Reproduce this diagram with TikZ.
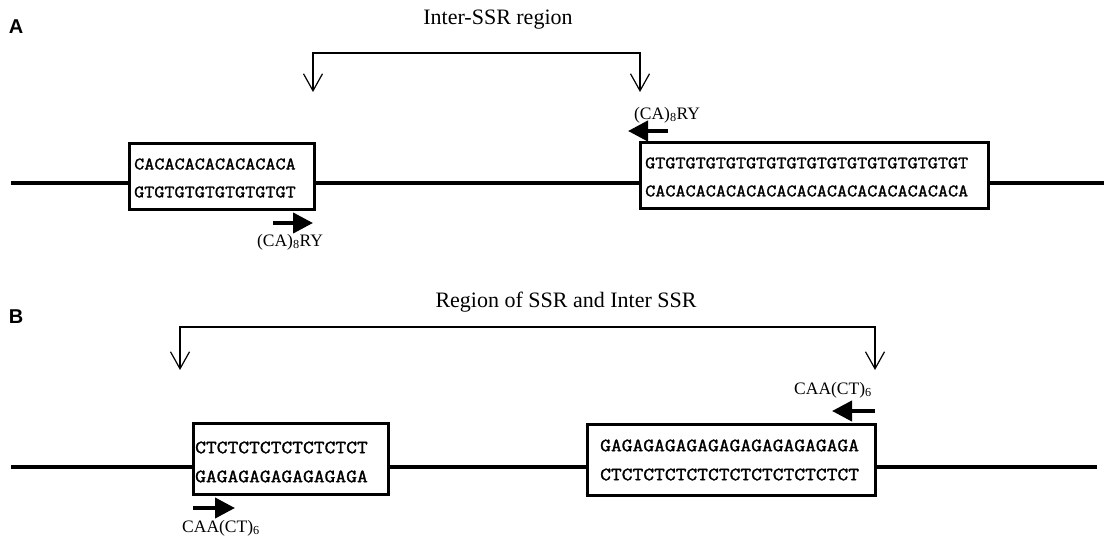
\documentclass[tikz,border=0pt]{standalone}
\usepackage{fontspec}
\setmainfont{Liberation Serif}
\setsansfont{Liberation Sans}
\newfontfamily\seqfont[FakeBold=1.6,FakeStretch=1.12]{Latin Modern Mono}
\usetikzlibrary{arrows.meta}

\begin{document}
\begin{tikzpicture}[x=1pt,y=-1pt,
  dna/.style={line width=4pt},
  ssrbox/.style={draw,line width=3pt,fill=white,inner sep=0pt},
  seqA/.style={font=\seqfont\fontsize{17.5}{28}\selectfont,align=left,anchor=west,inner sep=0pt},
  seqB/.style={font=\seqfont\fontsize{18.7}{29}\selectfont,align=left,anchor=west,inner sep=0pt},
  bracket/.style={line width=1.2pt,{Straight Barb[length=17pt,width=19pt]}-{Straight Barb[length=17pt,width=19pt]}},
  primer/.style={line width=4pt,-{Triangle[length=20pt,width=20pt]}},
  plabel/.style={font=\fontsize{17.5}{20}\selectfont,inner sep=0pt},
  regiontitle/.style={font=\fontsize{22}{26}\selectfont,inner sep=0pt},
  panel/.style={font=\sffamily\bfseries\fontsize{20}{22}\selectfont,inner sep=0pt}]
\useasboundingbox (0,0) rectangle (1108,540);

% panel A
\coordinate (lA0) at (11,183);
\coordinate (lA1) at (1104,183);
\coordinate (tipA1) at (313,92);
\coordinate (tipA2) at (640,92);
\coordinate (pA1s) at (273,223);
\coordinate (pA1e) at (313,223);
\coordinate (pA2s) at (668,131);
\coordinate (pA2e) at (628,131);

\node[panel] (labA) at (16,27) {A};
\node[regiontitle] (titleA) at (498,20) {Inter-SSR region};
\draw[bracket] (tipA1) -- ++(0,-39) -| (tipA2);

\draw[dna] (lA0) -- (lA1);
\node[ssrbox,minimum width=185,minimum height=66] (boxA1) at (221.5,177) {};
\node[ssrbox,minimum width=348,minimum height=66] (boxA2) at (814,176) {};
\node[seqA] (seqA1) at (134,178) {CACACACACACACACA\\GTGTGTGTGTGTGTGT};
\node[seqA] (seqA2) at (645,177) {GTGTGTGTGTGTGTGTGTGTGTGTGTGTGTGT\\CACACACACACACACACACACACACACACACA};

\draw[primer] (pA1s) -- (pA1e);
\node[plabel] (prA1) at (290,242) {(CA)\textsubscript{8}RY};
\draw[primer] (pA2s) -- (pA2e);
\node[plabel] (prA2) at (667,115) {(CA)\textsubscript{8}RY};

% panel B
\coordinate (lB0) at (11,467);
\coordinate (lB1) at (1097,467);
\coordinate (tipB1) at (180,370);
\coordinate (tipB2) at (875,370);
\coordinate (pB1s) at (193,508);
\coordinate (pB1e) at (235,508);
\coordinate (pB2s) at (875,411);
\coordinate (pB2e) at (832,411);

\node[panel] (labB) at (16,316.5) {B};
\node[regiontitle] (titleB) at (566,302) {Region of SSR and Inter SSR};
\draw[bracket] (tipB1) -- ++(0,-43) -| (tipB2);

\draw[dna] (lB0) -- (lB1);
\node[ssrbox,minimum width=195,minimum height=71] (boxB1) at (290.5,458.5) {};
\node[ssrbox,minimum width=288,minimum height=71] (boxB2) at (731,459.5) {};
\node[seqB] (seqB1) at (195,462) {CTCTCTCTCTCTCTCT\\GAGAGAGAGAGAGAGA};
\node[seqB] (seqB2) at (600,460) {GAGAGAGAGAGAGAGAGAGAGAGA\\CTCTCTCTCTCTCTCTCTCTCTCT};

\draw[primer] (pB1s) -- (pB1e);
\node[plabel] (prB1) at (221,528) {CAA(CT)\textsubscript{6}};
\draw[primer] (pB2s) -- (pB2e);
\node[plabel] (prB2) at (833,390) {CAA(CT)\textsubscript{6}};
\end{tikzpicture}
\end{document}
